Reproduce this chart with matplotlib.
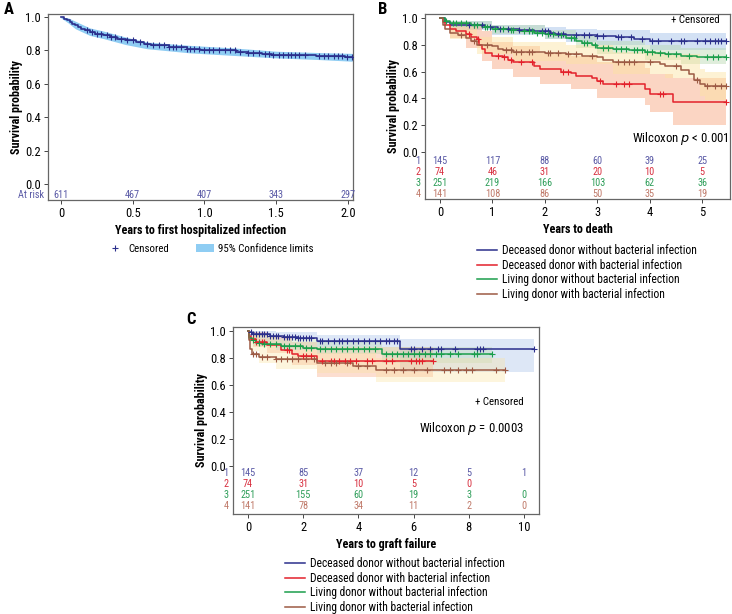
import numpy as np
import matplotlib
matplotlib.use("Agg")
import matplotlib.pyplot as plt
from matplotlib import font_manager as fm
from matplotlib.lines import Line2D
from matplotlib.patches import Patch

# pick a narrow font if one is installed, otherwise shrink DejaVu a bit
_names = {f.name for f in fm.fontManager.ttflist}
_narrow = [n for n in ["Liberation Sans Narrow", "Roboto Condensed", "Noto Sans Condensed",
                       "Open Sans Condensed", "DejaVu Sans Condensed",
                       "Noto Sans SemiCondensed"] if n in _names]
if _narrow:
    plt.rcParams["font.family"] = [_narrow[0], "DejaVu Sans"]
    FS = 1.0
else:
    plt.rcParams["font.family"] = ["DejaVu Sans"]
    FS = 0.8
plt.rcParams["font.size"] = 8 * FS

# ---- colours ----
LINE = ["#2b2f8c", "#e3212b", "#1b9e4b", "#9c5a44"]
RISK = ["#5a5aa6", "#d83040", "#2f9e5a", "#c07a6a"]
BAND = ["#9fbde8", "#f7a27a", "#b8d8b0", "#fbe3a0"]
GROUPS = ["Deceased donor without bacterial infection",
          "Deceased donor with bacterial infection",
          "Living donor without bacterial infection",
          "Living donor with bacterial infection"]

# ---- panel A: first hospitalized infection ----
a_t = [0, 0.02, 0.04, 0.06, 0.08, 0.10, 0.12, 0.14, 0.17, 0.20, 0.24, 0.29, 0.34,
       0.39, 0.45, 0.52, 0.58, 0.63, 0.75, 0.88, 0.97, 1.12, 1.22, 1.30, 1.40,
       1.47, 1.60, 1.78, 1.98]
a_s = [1.0, 0.99, 0.98, 0.97, 0.96, 0.95, 0.94, 0.93, 0.92, 0.91, 0.90, 0.89, 0.88,
       0.87, 0.86, 0.85, 0.84, 0.83, 0.82, 0.81, 0.805, 0.80, 0.79, 0.785, 0.78,
       0.775, 0.77, 0.765, 0.76]
a_band_t = [0, 0.05, 0.10, 0.20, 0.30, 0.45, 0.60, 0.90, 1.20, 1.50, 1.80, 2.03]
a_band_lo = [0.995, 0.965, 0.93, 0.89, 0.87, 0.835, 0.81, 0.785, 0.77, 0.755, 0.745, 0.735]
a_band_hi = [1.0, 0.995, 0.975, 0.935, 0.915, 0.88, 0.85, 0.83, 0.815, 0.795, 0.787, 0.782]
a_cens = [0.18, 0.22, 0.25, 0.28, 0.32, 0.35, 0.38, 0.42, 0.46, 0.50, 0.55, 0.60,
          0.64, 0.68, 0.72, 0.75, 0.78, 0.80, 0.84, 0.88, 0.90, 0.93, 0.96, 1.00,
          1.03, 1.06, 1.10, 1.14, 1.18, 1.21, 1.25, 1.30, 1.34, 1.38, 1.42, 1.45,
          1.48, 1.52, 1.55, 1.58, 1.60, 1.63, 1.66, 1.70, 1.80, 1.83, 1.86, 1.90,
          1.93, 1.96, 1.99, 2.03]
a_risk_t = [0, 0.5, 1.0, 1.5, 2.0]
a_risk = [611, 467, 407, 343, 297]

# ---- panel B: death ----
b_t = [
    [0, 0.1, 0.2, 0.85, 1.1, 1.5, 1.8, 2.1, 2.2, 2.4, 3.0, 3.35, 3.7, 4.0],
    [0, 0.05, 0.1, 0.2, 0.3, 0.5, 0.6, 0.7, 0.75, 0.8, 0.85, 1.0, 1.2, 1.3, 1.4,
     1.8, 1.9, 2.3, 2.5, 2.6, 2.9, 3.0, 3.1, 3.9, 4.0, 4.45],
    [0, 0.1, 0.2, 0.6, 0.8, 1.0, 1.3, 1.5, 1.8, 2.0, 2.2, 2.4, 2.6, 2.7, 2.9, 3.0,
     3.3, 3.6, 3.9, 4.1, 4.3, 4.6, 4.9],
    [0, 0.05, 0.1, 0.2, 0.35, 0.5, 0.6, 0.7, 1.0, 1.1, 1.2, 1.4, 2.0, 2.4, 2.7,
     3.0, 3.1, 3.3, 4.2, 4.3, 4.6, 4.75, 4.85, 4.95, 5.05],
]
b_s = [
    [1.0, 0.97, 0.95, 0.93, 0.92, 0.91, 0.90, 0.89, 0.88, 0.87, 0.865, 0.855, 0.845, 0.83],
    [1.0, 0.97, 0.95, 0.92, 0.90, 0.88, 0.86, 0.84, 0.80, 0.77, 0.74, 0.72, 0.71, 0.69,
     0.67, 0.64, 0.62, 0.60, 0.59, 0.57, 0.55, 0.53, 0.51, 0.47, 0.43, 0.37],
    [1.0, 0.98, 0.96, 0.95, 0.93, 0.92, 0.91, 0.90, 0.89, 0.88, 0.87, 0.85, 0.83,
     0.81, 0.80, 0.78, 0.77, 0.76, 0.75, 0.74, 0.73, 0.72, 0.71],
    [1.0, 0.95, 0.92, 0.89, 0.87, 0.85, 0.83, 0.80, 0.79, 0.77, 0.76, 0.75, 0.74,
     0.73, 0.72, 0.71, 0.69, 0.67, 0.66, 0.64, 0.61, 0.58, 0.54, 0.51, 0.49],
]
b_band_t = [
    [0, 0.2, 1.0, 2.0, 2.4, 3.0, 4.0, 5.45],
    [0, 0.2, 0.5, 0.8, 1.0, 1.4, 1.9, 2.5, 3.0, 3.9, 4.0, 4.45, 5.45],
    [0, 0.2, 1.0, 2.0, 2.6, 3.0, 3.9, 4.6, 5.45],
    [0, 0.2, 0.7, 1.4, 2.4, 3.3, 4.3, 4.95, 5.05, 5.45],
]
b_band_lo = [
    [1.0, 0.91, 0.87, 0.84, 0.82, 0.80, 0.76, 0.75],
    [1.0, 0.85, 0.78, 0.68, 0.62, 0.56, 0.51, 0.47, 0.40, 0.35, 0.30, 0.20, 0.20],
    [1.0, 0.93, 0.88, 0.84, 0.78, 0.73, 0.69, 0.66, 0.64],
    [1.0, 0.84, 0.73, 0.68, 0.66, 0.58, 0.55, 0.42, 0.39, 0.39],
]
b_band_hi = [
    [1.0, 0.98, 0.95, 0.93, 0.92, 0.91, 0.89, 0.89],
    [1.0, 0.97, 0.95, 0.90, 0.82, 0.79, 0.74, 0.72, 0.67, 0.63, 0.58, 0.55, 0.55],
    [1.0, 0.98, 0.95, 0.91, 0.87, 0.83, 0.80, 0.78, 0.77],
    [1.0, 0.93, 0.86, 0.82, 0.80, 0.75, 0.73, 0.62, 0.60, 0.60],
]
b_cens = [
    [0.55, 0.65, 0.8, 0.95, 1.15, 1.3, 1.5, 1.7, 1.95, 2.0, 2.05, 2.1, 2.25, 2.35,
     2.6, 2.75, 2.85, 3.0, 3.1, 3.4, 3.45, 3.65, 3.85, 4.05, 4.15, 4.4, 4.6, 4.65,
     4.9, 5.05, 5.15, 5.25, 5.3, 5.35, 5.45],
    [0.55, 0.72, 1.1, 1.22, 1.35, 1.55, 1.75, 2.35, 2.45, 3.05, 3.35, 3.5, 3.6,
     4.2, 4.25, 5.45],
    [0.12, 0.25, 0.3, 0.4, 0.5, 0.65, 0.7, 0.85, 0.9, 1.05, 1.2, 1.35, 1.4, 1.6,
     1.7, 1.75, 1.85, 1.95, 2.05, 2.15, 2.3, 2.5, 2.55, 2.75, 2.8, 2.95, 3.1, 3.2,
     3.35, 3.45, 3.55, 3.7, 3.75, 3.85, 3.95, 4.05, 4.2, 4.35, 4.5, 4.75, 5.1, 5.2,
     5.3, 5.45],
    [0.4, 0.65, 0.9, 1.25, 1.35, 1.45, 1.55, 1.7, 1.75, 2.05, 2.1, 2.25, 2.45,
     2.6, 2.9, 3.4, 3.5, 3.6, 3.7, 4.0, 4.5, 4.9, 5.1, 5.25, 5.35, 5.45],
]
b_risk_t = [0, 1, 2, 3, 4, 5]
b_risk = [[145, 117, 88, 60, 39, 25],
          [74, 46, 31, 20, 10, 5],
          [251, 219, 166, 103, 62, 36],
          [141, 108, 86, 50, 35, 19]]

# ---- panel C: graft failure ----
c_t = [
    [0, 0.05, 0.15, 0.4, 0.8, 1.3, 1.8, 2.5, 5.5],
    [0, 0.05, 0.1, 0.3, 0.7, 1.2, 1.6, 1.8, 2.5],
    [0, 0.05, 0.15, 0.3, 0.6, 1.2, 2.0, 2.5, 4.85],
    [0, 0.03, 0.08, 0.15, 0.4, 1.0, 2.5, 3.8, 4.65],
]
c_s = [
    [1.0, 0.99, 0.98, 0.975, 0.965, 0.955, 0.945, 0.925, 0.87],
    [1.0, 0.96, 0.94, 0.92, 0.90, 0.86, 0.83, 0.815, 0.775],
    [1.0, 0.95, 0.93, 0.915, 0.905, 0.89, 0.875, 0.865, 0.83],
    [1.0, 0.93, 0.87, 0.83, 0.81, 0.79, 0.765, 0.74, 0.715],
]
c_band_t = [
    [0, 0.2, 1.0, 2.5, 5.5, 10.35],
    [0, 0.2, 0.7, 1.6, 2.5, 6.7],
    [0, 0.2, 1.0, 2.5, 4.85, 8.85],
    [0, 0.1, 0.4, 1.0, 2.5, 4.65, 9.3],
]
c_band_lo = [
    [1.0, 0.96, 0.94, 0.88, 0.70, 0.70],
    [1.0, 0.88, 0.84, 0.75, 0.66, 0.64],
    [1.0, 0.89, 0.86, 0.83, 0.76, 0.76],
    [1.0, 0.85, 0.76, 0.72, 0.69, 0.62, 0.60],
]
c_band_hi = [
    [1.0, 1.0, 0.99, 0.97, 0.94, 0.94],
    [1.0, 0.99, 0.96, 0.92, 0.88, 0.88],
    [1.0, 0.97, 0.94, 0.92, 0.88, 0.88],
    [1.0, 0.97, 0.89, 0.86, 0.84, 0.80, 0.80],
]
c_cens = [
    [0.1, 0.2, 0.3, 0.4, 0.5, 0.6, 0.7, 0.8, 0.9, 1.0, 1.1, 1.3, 1.4, 1.5, 1.6,
     1.7, 1.8, 1.9, 2.0, 2.1, 2.2, 2.3, 2.6, 2.7, 2.9, 3.1, 3.3, 3.4, 3.6, 3.8,
     4.0, 4.2, 4.4, 4.6, 4.8, 5.0, 5.1, 5.3, 5.4, 5.9, 6.0, 6.3, 6.6, 6.9, 7.0,
     7.5, 8.3, 8.4, 8.5, 10.35],
    [0.2, 0.3, 0.4, 0.5, 0.6, 1.4, 1.5, 2.0, 2.1, 2.3, 2.7, 3.0, 3.1, 3.3, 3.5,
     3.7, 3.9, 4.3, 4.5, 5.0, 5.2, 5.9, 6.1, 6.2, 6.3, 6.7],
    [0.2, 0.4, 0.6, 0.8, 1.0, 1.3, 1.5, 1.7, 1.9, 2.1, 2.3, 2.6, 2.8, 3.0, 3.2,
     3.4, 3.6, 3.8, 4.0, 4.2, 4.4, 4.6, 5.0, 5.2, 5.4, 5.6, 5.8, 6.0, 6.2, 6.4,
     6.6, 6.8, 7.0, 7.3, 7.6, 8.2, 8.3, 8.85],
    [0.2, 0.3, 0.5, 0.7, 1.0, 1.2, 1.4, 1.6, 1.8, 2.1, 2.4, 2.8, 3.0, 3.2, 3.6,
     4.0, 4.3, 5.0, 5.3, 5.6, 6.0, 6.5, 7.1, 7.3, 7.6, 7.9, 8.1, 9.0, 9.3],
]
c_risk_t = [0, 2, 4, 6, 8, 10]
c_risk = [[145, 85, 37, 12, 5, 1],
          [74, 31, 10, 5, 0],
          [251, 155, 60, 19, 3, 0],
          [141, 78, 34, 11, 2, 0]]


def km_curve(ax, t, s, cens, color, lw=1.1):
    end = max(max(cens), t[-1])
    ax.step(list(t) + [end], list(s) + [s[-1]], where="post", color=color, lw=lw, zorder=3)
    idx = np.searchsorted(t, cens, side="right") - 1
    ax.plot(cens, np.asarray(s)[idx], "+", color=color, ms=4.5, mew=0.8, zorder=4)


def style_axes(ax, xlim, ylim, xticks, xticklabels, xlabel):
    ax.set_xlim(*xlim)
    ax.set_ylim(*ylim)
    ax.set_yticks([0, 0.2, 0.4, 0.6, 0.8, 1.0])
    ax.set_yticklabels(["0.0", "0.2", "0.4", "0.6", "0.8", "1.0"])
    ax.set_xticks(xticks)
    ax.set_xticklabels(xticklabels)
    ax.tick_params(labelsize=9 * FS, length=3, width=0.7, color="#444444", pad=2)
    for sp in ax.spines.values():
        sp.set_color("#666666")
        sp.set_linewidth(0.9)
    ax.set_xlabel(xlabel, fontsize=8.7 * FS, fontweight="bold", labelpad=3)
    ax.set_ylabel("Survival probability", fontsize=8.7 * FS, fontweight="bold", labelpad=2)


fig = plt.figure(figsize=(7.32, 6.14), dpi=100)
RFS = 7.4 * FS   # at-risk numbers
LFS = 8.3 * FS   # legend / annotation text

# ================= A =================
axA = fig.add_axes([48 / 732, 1 - 200 / 614, 305 / 732, 186 / 614])
axA.fill_between(a_band_t, a_band_lo, a_band_hi, color="#8fcdf3", lw=0, zorder=2)
km_curve(axA, a_t, a_s, a_cens, LINE[0], lw=1.2)
style_axes(axA, (-0.09, 2.035), (-0.096, 1.018), [0, 0.5, 1.0, 1.5, 2.0],
           ["0", "0.5", "1.0", "1.5", "2.0"], "Years to first hospitalized infection")
for x, n in zip(a_risk_t, a_risk):
    axA.text(x, -0.066, str(n), color=RISK[0], fontsize=RFS, ha="center", va="center")
axA.text(-0.012, -0.066, "At risk", color=RISK[0], fontsize=RFS, ha="right", va="center",
         transform=axA.get_yaxis_transform())
fig.legend(handles=[Line2D([], [], color=LINE[0], marker="+", ls="none", ms=5, mew=0.8),
                    Patch(facecolor="#8fcdf3", edgecolor="none")],
           labels=["Censored", "95% Confidence limits"], loc="center",
           bbox_to_anchor=(210 / 732, 1 - 249 / 614), ncol=2, frameon=False,
           fontsize=7.8 * FS, handlelength=1.6, handletextpad=0.4, columnspacing=2.5)

# ================= B =================
axB = fig.add_axes([425 / 732, 1 - 199 / 614, 305 / 732, 185 / 614])
for g in range(4):
    axB.fill_between(b_band_t[g], b_band_lo[g], b_band_hi[g], step="post",
                     color=BAND[g], alpha=0.45, lw=0, zorder=1)
for g in range(4):
    km_curve(axB, b_t[g], b_s[g], b_cens[g], LINE[g])
style_axes(axB, (-0.286, 5.53), (-0.35, 1.03), [0, 1, 2, 3, 4, 5],
           ["0", "1", "2", "3", "4", "5"], "Years to death")
b_rows = [-0.067, -0.149, -0.231, -0.313]
for g in range(4):
    for x, n in zip(b_risk_t, b_risk[g]):
        axB.text(x, b_rows[g], str(n), color=RISK[g], fontsize=RFS, ha="center", va="center")
    axB.text(-0.015, b_rows[g], str(g + 1), color=RISK[g], fontsize=RFS, ha="right",
             va="center", transform=axB.get_yaxis_transform())
axB.text(5.5, 0.1, "Wilcoxon $p$ < 0.001", fontsize=9.2 * FS, ha="right", va="center")
axB.text(5.33, 0.985, "+ Censored", fontsize=7.8 * FS, ha="right", va="center")
fig.legend(handles=[Line2D([], [], color=c, lw=1.1) for c in LINE], labels=GROUPS,
           loc="upper left", bbox_to_anchor=(477 / 732, 1 - 244 / 614), frameon=False,
           fontsize=LFS, handlelength=1.73, handletextpad=0.43, labelspacing=0.14,
           borderpad=0, borderaxespad=0)

# ================= C =================
axC = fig.add_axes([233 / 732, 1 - 514 / 614, 306 / 732, 187 / 614])
for g in range(4):
    axC.fill_between(c_band_t[g], c_band_lo[g], c_band_hi[g], step="post",
                     color=BAND[g], alpha=0.35, lw=0, zorder=1)
for g in range(4):
    km_curve(axC, c_t[g], c_s[g], c_cens[g], LINE[g])
style_axes(axC, (-0.54, 10.54), (-0.356, 1.03), [0, 2, 4, 6, 8, 10],
           ["0", "2", "4", "6", "8", "10"], "Years to graft failure")
c_rows = [-0.052, -0.133, -0.215, -0.296]
for g in range(4):
    for x, n in zip(c_risk_t, c_risk[g]):
        axC.text(x, c_rows[g], str(n), color=RISK[g], fontsize=RFS, ha="center", va="center")
    axC.text(-0.015, c_rows[g], str(g + 1), color=RISK[g], fontsize=RFS, ha="right",
             va="center", transform=axC.get_yaxis_transform())
axC.text(10.0, 0.474, "+ Censored", fontsize=7.8 * FS, ha="right", va="center")
axC.text(10.0, 0.28, "Wilcoxon $p$ = 0.0003", fontsize=9.2 * FS, ha="right", va="center")
fig.legend(handles=[Line2D([], [], color=c, lw=1.1) for c in LINE], labels=GROUPS,
           loc="upper left", bbox_to_anchor=(285 / 732, 1 - 557 / 614), frameon=False,
           fontsize=LFS, handlelength=1.73, handletextpad=0.43, labelspacing=0.14,
           borderpad=0, borderaxespad=0)

# panel letters
fig.text(4 / 732, 1 - 9 / 614, "A", fontsize=12, fontweight="bold", va="center")
fig.text(378 / 732, 1 - 9 / 614, "B", fontsize=12, fontweight="bold", va="center")
fig.text(186 / 732, 1 - 320 / 614, "C", fontsize=12, fontweight="bold", va="center")

fig.savefig("out.png", dpi=100)
